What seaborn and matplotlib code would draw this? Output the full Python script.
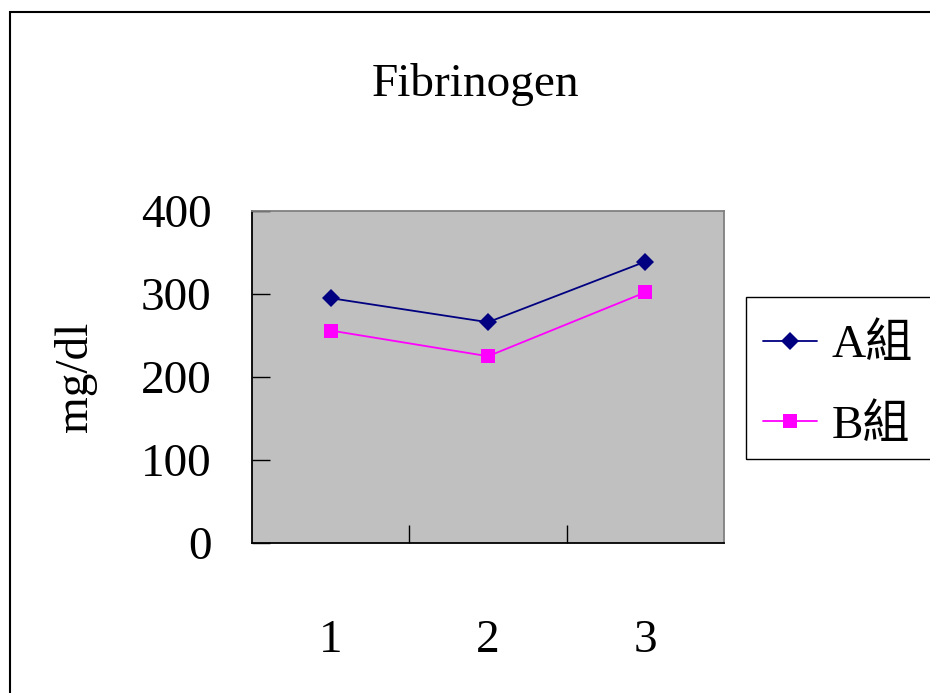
import matplotlib
matplotlib.use('Agg')
import matplotlib.pyplot as plt
from matplotlib.patches import Rectangle
import seaborn as sns
import pandas as pd

# ─── Data ────────────────────────────────────────────────────────────────────
visits   = [1, 2, 3]
group_a  = [295, 266, 339]
group_b  = [256, 225, 302]
labels   = ['A組', 'B組']
y_ticks  = [0, 100, 200, 300, 400]

FONT = ['Liberation Serif', 'Noto Sans CJK TC']
FS   = 34

sns.set_style('white')
plt.rcParams['font.family'] = FONT
plt.rcParams['text.color'] = 'black'
plt.rcParams['xtick.color'] = 'black'
plt.rcParams['ytick.color'] = 'black'
plt.rcParams['axes.labelcolor'] = 'black'

df = pd.DataFrame({'visit': visits, 'A': group_a, 'B': group_b})

fig = plt.figure(figsize=(9.3, 6.93), dpi=100)
ax = fig.add_axes([252 / 930, 1 - 543 / 693, 472 / 930, 332 / 693])
ax.set_facecolor('#c0c0c0')

sns.lineplot(data=df, x='visit', y='A', ax=ax, color='#000080', marker='D',
             markersize=9, markeredgewidth=0, linewidth=1.3, label=labels[0])
sns.lineplot(data=df, x='visit', y='B', ax=ax, color='#ff00ff', marker='s',
             markersize=10, markeredgewidth=0, linewidth=1.3, label=labels[1])

ax.set_xlim(0.5, 3.5)
ax.set_ylim(0, 400)
ax.set_yticks(y_ticks)
ax.set_yticklabels([str(t) for t in y_ticks], fontsize=FS, family=FONT)
ax.set_xticks(visits)
ax.set_xticklabels([str(v) for v in visits], fontsize=FS, family=FONT)
ax.set_xticks([1.5, 2.5], minor=True)
ax.tick_params(axis='x', which='major', length=0, pad=55)
ax.tick_params(axis='x', which='minor', bottom=True, direction='in',
               length=13, width=1, color='black')
ax.tick_params(axis='y', direction='in', length=13, width=1, color='black',
               pad=29, left=True)
ax.set_xlabel('')
ax.set_ylabel('mg/dl', fontsize=FS, family=FONT, labelpad=32)

for side in ['left', 'bottom']:
    ax.spines[side].set_color('black')
    ax.spines[side].set_linewidth(1.3)
for side in ['top', 'right']:
    ax.spines[side].set_color('#808080')
    ax.spines[side].set_linewidth(1.3)

fig.text(475 / 930, 1 - 84 / 693, 'Fibrinogen', fontsize=FS, family=FONT,
         ha='center', va='center')

# legend: entries without frame, box drawn separately so it runs off the edge
ax.legend_.remove()
handles, hl = ax.get_legend_handles_labels()
fig.legend(handles, hl, loc='upper left',
           bbox_to_anchor=(763 / 930, 1 - 324 / 693),
           bbox_transform=fig.transFigure,
           prop={'family': FONT, 'size': FS}, frameon=False,
           handlelength=1.15, handletextpad=0.3, borderpad=0,
           labelspacing=0.8, borderaxespad=0)
fig.add_artist(Rectangle((746 / 930, 1 - 459 / 693), 0.3, 162 / 693,
                         transform=fig.transFigure, fill=False,
                         edgecolor='black', linewidth=1.0))

# outer chart border (runs off the right and bottom edges)
fig.add_artist(Rectangle((10 / 930, -0.2), 1.2, 1.2 - 12 / 693,
                         transform=fig.transFigure, fill=False,
                         edgecolor='black', linewidth=1.5))

fig.savefig('out.png', dpi=100)
